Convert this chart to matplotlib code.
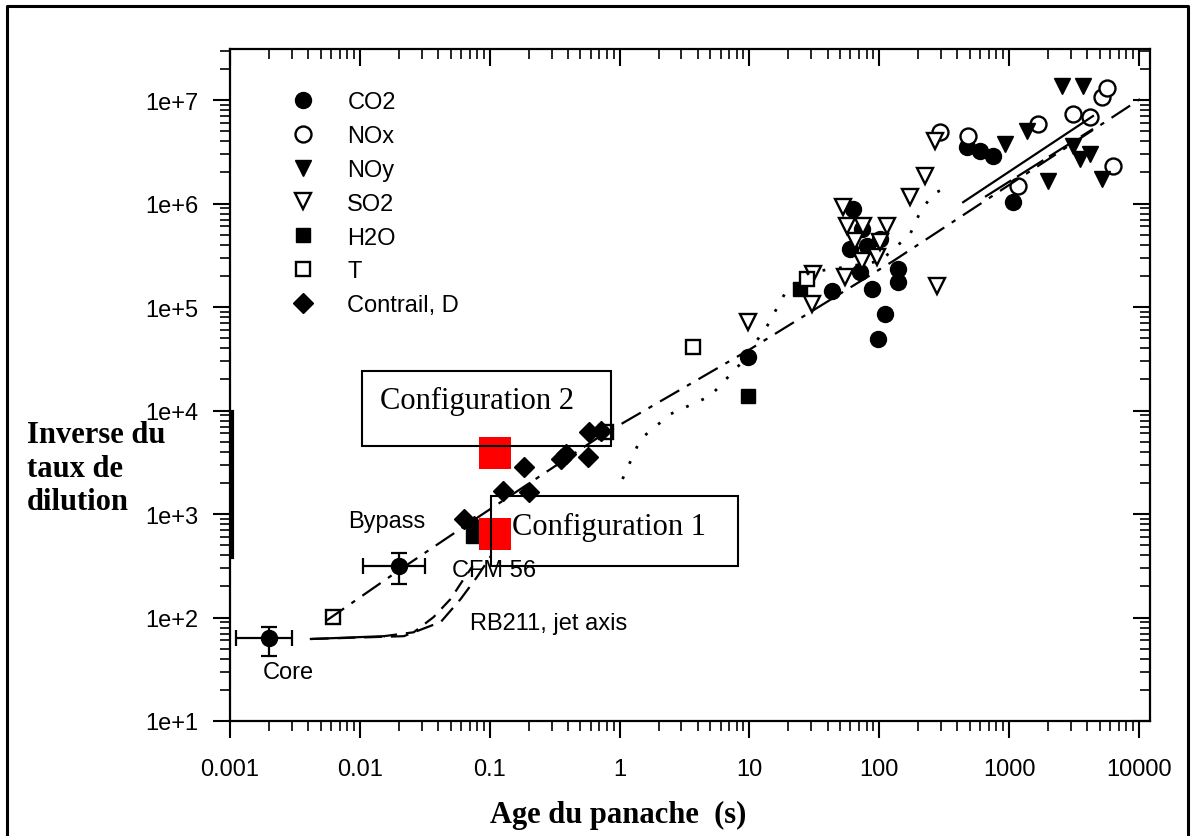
import numpy as np
import matplotlib.pyplot as plt
from matplotlib.lines import Line2D
from matplotlib.patches import Rectangle
from matplotlib.ticker import LogLocator, FuncFormatter, NullFormatter

plt.rcParams['font.family'] = ['Liberation Sans', 'DejaVu Sans']

# plume age (s) / inverse dilution
co2_t = [9.7, 43.5, 60, 63, 71, 74, 81, 88, 98, 102, 111, 140, 140, 475, 598, 753, 1074]
co2_d = [3.3e4, 1.43e5, 3.6e5, 8.85e5, 2.18e5, 5.7e5, 3.9e5, 1.49e5, 4.9e4, 4.5e5, 8.5e4,
         2.33e5, 1.75e5, 3.5e6, 3.2e6, 2.9e6, 1.03e6]
nox_t = [294, 484, 1170, 1670, 3100, 4200, 5190, 5675, 6300]
nox_d = [4.9e6, 4.5e6, 1.48e6, 5.9e6, 7.3e6, 6.9e6, 1.07e7, 1.3e7, 2.3e6]
noy_t = [930, 1375, 2000, 2560, 3100, 3515, 3700, 4200, 5190]
noy_d = [3.76e6, 5.0e6, 1.65e6, 1.37e7, 3.6e6, 2.7e6, 1.37e7, 3.0e6, 1.73e6]
so2_t = [9.7, 30.5, 31, 52.8, 54.7, 56.8, 65, 74, 75, 96.5, 102, 115, 173, 226, 270, 279]
so2_d = [7.2e4, 1.07e5, 2.08e5, 9.25e5, 1.95e5, 6.07e5, 4.35e5, 2.78e5, 6.07e5, 3.04e5,
         4.25e5, 6.07e5, 1.16e6, 1.85e6, 4.0e6, 1.6e5]
h2o_t = [0.075, 9.7, 24.7]
h2o_d = [612, 1.38e4, 1.49e5]
t_t = [0.0062, 0.78, 3.7, 27.9]
t_d = [101, 6200, 4.1e4, 1.86e5]
con_t = [0.063, 0.0753, 0.126, 0.183, 0.2, 0.352, 0.385, 0.568, 0.578, 0.714]
con_d = [896, 766, 1670, 2840, 1630, 3400, 3800, 3560, 6200, 6340]

# error-bar points (core and CFM 56)
eb_t = [0.002, 0.02]
eb_d = [63, 315]
eb_t_lo = [0.00111, 0.0105]
eb_t_hi = [0.0030, 0.032]
eb_d_lo = [42.5, 211]
eb_d_hi = [81, 420]

# curves
fit_t = [0.00547, 0.0207, 0.0715, 0.714, 10.2, 128, 10190]
fit_d = [92.5, 294, 837, 5670, 3.93e4, 2.78e5, 1.02e7]
dot_t = [1.055, 1.45, 2.47, 5.0, 8.5, 13.7, 19.6, 29.4, 44.3, 102, 173, 207, 260, 352]
dot_d = [2180, 5300, 9250, 1.38e4, 2.81e4, 6.55e4, 1.49e5, 2.18e5, 2.33e5, 2.78e5,
         5.07e5, 8.3e5, 1.24e6, 1.48e6]
rb_t = [0.0042, 0.0218, 0.042, 0.0598, 0.0809, 0.102]
rb_d = [62, 66, 90.5, 151, 252, 393]
cfm_t = [0.0153, 0.026, 0.037, 0.050, 0.063, 0.074]
cfm_d = [66, 72, 101, 151, 235, 315]
flat_t = [0.0042, 0.0153]
flat_d = [62, 66]
sa_t = [443, 4430]
sa_d = [1.03e6, 7.0e6]
sb_t = [653, 4430]
sb_d = [1.16e6, 5.25e6]

# the two configurations
conf_t = [0.110, 0.110]
conf_d = [648, 3850]

ylabel_lines = ['Inverse du', 'taux de', 'dilution']

W, H = 1192, 837
fig = plt.figure(figsize=(W / 100, H / 100), dpi=100)
ax = fig.add_axes([230 / W, 1 - 722 / H, 920 / W, 672 / H])
ax.set_xscale('log')
ax.set_yscale('log')
ax.set_xlim(0.001, 12170)
ax.set_ylim(10, 3.11e7)

ms = 11.5
ax.plot(co2_t, co2_d, 'o', color='black', ms=ms, label='CO2')
ax.plot(nox_t, nox_d, 'o', mfc='white', mec='black', mew=1.7, ms=ms, label='NOx')
ax.plot(noy_t, noy_d, 'v', color='black', ms=ms, label='NOy')
ax.plot(so2_t, so2_d, 'v', mfc='white', mec='black', mew=1.7, ms=ms, label='SO2')
ax.plot(h2o_t, h2o_d, 's', color='black', ms=ms - 1, label='H2O')
ax.plot(t_t, t_d, 's', mfc='white', mec='black', mew=1.7, ms=ms - 1, label='T')
ax.plot(con_t, con_d, 'D', color='black', ms=ms - 1, label='Contrail, D')

eb_t = np.array(eb_t)
eb_d = np.array(eb_d)
xerr = [eb_t - np.array(eb_t_lo), np.array(eb_t_hi) - eb_t]
yerr = [eb_d - np.array(eb_d_lo), np.array(eb_d_hi) - eb_d]
ax.errorbar(eb_t, eb_d, xerr=xerr, yerr=yerr, fmt='o', color='black', ms=ms,
            elinewidth=1.6, capsize=6, capthick=1.6)

ax.plot(fit_t, fit_d, color='black', lw=1.6, dashes=(10, 4, 2, 4))
ax.plot(dot_t, dot_d, color='black', lw=2, dashes=(1, 5))
ax.plot(flat_t, flat_d, color='black', lw=1.6)
ax.plot(rb_t, rb_d, color='black', lw=1.6, dashes=(8, 4))
ax.plot(cfm_t, cfm_d, color='black', lw=1.6, dashes=(6, 4))
ax.plot(sa_t, sa_d, color='black', lw=1.6)
ax.plot(sb_t, sb_d, color='black', lw=1.6, dashes=(14, 3))

ax.plot(conf_t, conf_d, 's', color='#ff0000', ms=22.5, mew=0, zorder=10)

fs = 17
ax.text(0.0318, 855, 'Bypass', fontsize=fs, ha='right', va='center')
ax.text(0.051, 290, 'CFM 56', fontsize=fs, ha='left', va='center')
ax.text(0.07, 88, 'RB211, jet axis', fontsize=fs, ha='left', va='center')
ax.text(0.0018, 29.7, 'Core', fontsize=fs, ha='left', va='center')

ax.legend(loc='upper left', bbox_to_anchor=(0.066, 0.937), frameon=False, fontsize=fs,
          handlelength=1.0, handletextpad=1.4, labelspacing=0.5, borderpad=0,
          borderaxespad=0, numpoints=1)

sub = np.arange(2, 10)
for a in (ax.xaxis, ax.yaxis):
    a.set_major_locator(LogLocator(base=10, numticks=20))
    a.set_minor_locator(LogLocator(base=10, subs=sub, numticks=200))
    a.set_minor_formatter(NullFormatter())
ax.xaxis.set_major_formatter(FuncFormatter(lambda v, p: '%g' % v))
ax.yaxis.set_major_formatter(FuncFormatter(lambda v, p: '1e+%d' % round(np.log10(v))))
ax.tick_params(which='major', direction='out', length=12, width=1.5, labelsize=fs)
ax.tick_params(axis='x', which='major', pad=15)
ax.tick_params(axis='y', which='major', pad=11)
ax.tick_params(which='minor', direction='out', length=7, width=1.2)
for s in ax.spines.values():
    s.set_linewidth(1.6)

# inward ticks on top and right
ax2 = fig.add_axes(ax.get_position(), sharex=ax, sharey=ax, frameon=False)
ax2.tick_params(which='both', direction='in', top=True, right=True, bottom=False, left=False,
                labelbottom=False, labelleft=False)
ax2.tick_params(which='major', length=12, width=1.5)
ax2.tick_params(which='minor', length=7, width=1.2)

# axis titles, as in the report
fig.text(618 / W, 1 - 815 / H, 'Age du panache  (s)', family='Liberation Serif',
         weight='bold', fontsize=22, ha='center', va='center')
for i, line in enumerate(ylabel_lines):
    fig.text(27 / W, 1 - (436 + 33.5 * i) / H, line, family='Liberation Serif',
             weight='bold', fontsize=22, ha='left', va='center')

# configuration boxes
fig.patches.append(Rectangle((362 / W, 1 - 447 / H), 249 / W, 75 / H, transform=fig.transFigure,
                             fill=False, ec='black', lw=1.5))
fig.patches.append(Rectangle((491 / W, 1 - 567 / H), 247 / W, 70 / H, transform=fig.transFigure,
                             fill=False, ec='black', lw=1.5))
fig.text(380 / W, 1 - 401 / H, 'Configuration 2', family='Liberation Serif', fontsize=22,
         ha='left', va='center')
fig.text(512 / W, 1 - 527 / H, 'Configuration 1', family='Liberation Serif', fontsize=22,
         ha='left', va='center')

# outer frame and label box edge
fig.lines.append(Line2D([7 / W, 7 / W, 1188 / W, 1188 / W], [0, 1 - 7 / H, 1 - 7 / H, 0],
                        transform=fig.transFigure, color='black', lw=2.2))
fig.lines.append(Line2D([231.5 / W, 231.5 / W], [1 - 413 / H, 1 - 558 / H],
                        transform=fig.transFigure, color='black', lw=3))

fig.savefig('out.png', dpi=100)
